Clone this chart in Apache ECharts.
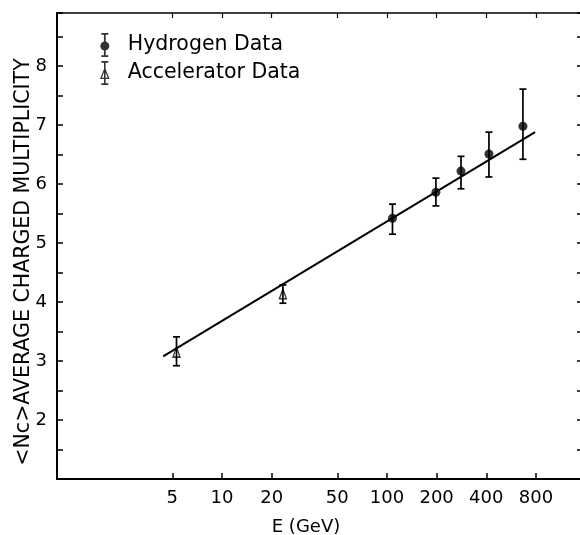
<!DOCTYPE html>
<html><head><meta charset="utf-8">
<script src="https://cdn.jsdelivr.net/npm/echarts@6/dist/echarts.min.js"></script>
<style>html,body{margin:0;padding:0;background:#fff}#c{width:580px;height:535px}</style>
</head><body><div id="c"></div>
<script>
// ---- data ----
const xTickValues = [5, 10, 20, 50, 100, 200, 400, 800];
const yLabelValues = [2, 3, 4, 5, 6, 7, 8];
const hydroE  = [108, 198, 281, 415, 667];
const hydroN  = [5.42, 5.86, 6.22, 6.51, 6.98];
const hydroLo = [5.15, 5.63, 5.92, 6.12, 6.42];
const hydroHi = [5.66, 6.10, 6.47, 6.88, 7.61];
const accE  = [5.3, 23.4];
const accN  = [3.15, 4.14];
const accLo = [2.92, 3.98];
const accHi = [3.41, 4.29];
const fitE = [4.4, 790];
const fitN = [3.08, 6.88];

const FONT = 'DejaVu Sans';
const FW = 'normal';
const chart = echarts.init(document.getElementById('c'));

function errBar(params, api) {
  const x = api.value(0);
  const top = api.coord([x, api.value(2)]);
  const bot = api.coord([x, api.value(1)]);
  const hw = 3.5;
  const st = {stroke: '#000', lineWidth: 1.7};
  return {type: 'group', children: [
    {type: 'line', shape: {x1: top[0], y1: top[1], x2: bot[0], y2: bot[1]}, style: st},
    {type: 'line', shape: {x1: top[0]-hw, y1: top[1], x2: top[0]+hw, y2: top[1]}, style: st},
    {type: 'line', shape: {x1: bot[0]-hw, y1: bot[1], x2: bot[0]+hw, y2: bot[1]}, style: st}
  ]};
}

const hydroIcon = 'path://M1.5 0H8.5V1.8H1.5Z M4.1 0H5.9V24H4.1Z M1.5 22.2H8.5V24H1.5Z M0.5 13A4.5 4.5 0 1 1 9.5 13A4.5 4.5 0 1 1 0.5 13Z';
const accIcon = 'path://M1.5 0H8.5V1.8H1.5Z M4.2 0H5.8V24H4.2Z M1.5 22.2H8.5V24H1.5Z M5 6L9.8 18L0.2 18Z M5 9.2L2.1 16.8L7.9 16.8Z';

const xCommon = {
  type: 'log', min: 1, max: 1500, logBase: 10,
  axisLine: {show: true, lineStyle: {color: '#000', width: 2}},
  splitLine: {show: false}, minorTick: {show: false},
};

chart.setOption({
  animation: false,
  backgroundColor: '#fff',
  textStyle: {fontFamily: FONT, color: '#000', fontWeight: FW},
  grid: {left: 57, right: -1, top: 13, bottom: 56, containLabel: false, outerBoundsMode: 'none'},
  legend: {
    orient: 'vertical', left: 100, top: 33, itemGap: 4,
    itemWidth: 36, itemHeight: 24, padding: 0,
    textStyle: {fontFamily: FONT, fontSize: 20.5, fontWeight: FW, color: '#000'},
    data: [
      {name: 'Hydrogen Data', icon: hydroIcon, itemStyle: {color: '#000', borderWidth: 0}},
      {name: 'Accelerator Data', icon: accIcon, itemStyle: {color: '#000', borderWidth: 0}}
    ]
  },
  xAxis: [
    Object.assign({}, xCommon, {
      position: 'bottom',
      name: 'E (GeV)', nameLocation: 'middle', nameGap: 39, nameMoveOverlap: false,
      nameTextStyle: {fontFamily: FONT, fontSize: 18, fontWeight: FW, color: '#000', padding: [0, 26, 0, 0]},
      axisTick: {show: true, inside: true, length: 6, customValues: xTickValues, lineStyle: {color: '#000', width: 1.5}},
      axisLabel: {show: true, margin: 10, customValues: xTickValues, fontFamily: FONT, fontSize: 18, fontWeight: FW, color: '#000'}
    }),
    Object.assign({}, xCommon, {
      position: 'top',
      axisLine: {show: true, lineStyle: {color: '#000', width: 1.5}},
      axisTick: {show: true, inside: true, length: 5, customValues: xTickValues, lineStyle: {color: '#000', width: 1.2}},
      axisLabel: {show: false}
    })
  ],
  yAxis: [
    {
      type: 'value', min: 1, max: 8.9, interval: 0.5, position: 'left',
      name: '<Nc>AVERAGE CHARGED MULTIPLICITY', nameLocation: 'middle', nameGap: 23, nameRotate: 90,
      nameMoveOverlap: false,
      nameTextStyle: {fontFamily: FONT, fontSize: 20.5, fontWeight: FW, color: '#000', padding: [0, 32, 0, 0]},
      axisLine: {show: true, lineStyle: {color: '#000', width: 2}},
      axisTick: {show: true, inside: true, length: 6, lineStyle: {color: '#000', width: 1.5}},
      axisLabel: {show: true, margin: 10, customValues: yLabelValues, fontFamily: FONT, fontSize: 18, fontWeight: FW, color: '#000'},
      splitLine: {show: false}
    },
    {
      type: 'value', min: 1, max: 8.9, interval: 0.5, position: 'right',
      axisLine: {show: false},
      axisTick: {show: true, inside: true, length: 4, lineStyle: {color: '#000', width: 1.5}},
      axisLabel: {show: false}, splitLine: {show: false}
    }
  ],
  series: [
    {
      type: 'line', name: 'fit', data: fitE.map((e, i) => [e, fitN[i]]),
      showSymbol: false, symbol: 'none', lineStyle: {color: '#000', width: 2}, z: 2
    },
    {
      type: 'custom', name: 'hydroErr', renderItem: errBar, z: 3,
      data: hydroE.map((e, i) => [e, hydroLo[i], hydroHi[i]])
    },
    {
      type: 'custom', name: 'accErr', renderItem: errBar, z: 3,
      data: accE.map((e, i) => [e, accLo[i], accHi[i]])
    },
    {
      type: 'scatter', name: 'Hydrogen Data', symbol: 'circle', symbolSize: 9, z: 4,
      itemStyle: {color: '#000'}, data: hydroE.map((e, i) => [e, hydroN[i]])
    },
    {
      type: 'scatter', name: 'Accelerator Data', symbol: 'triangle', symbolSize: [7, 10], z: 4,
      itemStyle: {color: 'rgba(255,255,255,0)', borderColor: '#000', borderWidth: 1.4},
      data: accE.map((e, i) => [e, accN[i]])
    }
  ]
});
</script></body></html>
